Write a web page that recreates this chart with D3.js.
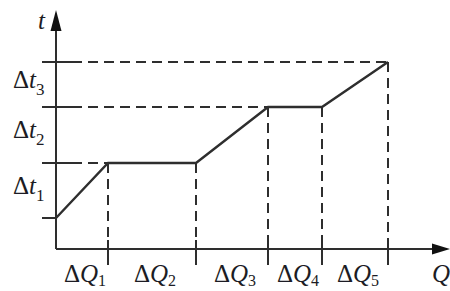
<!DOCTYPE html>
<html lang="en">
<head>
<meta charset="UTF-8">
<title>t vs Q</title>
<style>
  body { margin: 0; background: #fff; }
  .lbl { font-family: "Liberation Serif", "Times New Roman", serif; font-size: 25px; fill: #1c1c24; }
  .it { font-style: italic; }
</style>
</head>
<body>
<svg width="450" height="291"></svg>
<script src="https://cdnjs.cloudflare.com/ajax/libs/d3/7.8.5/d3.min.js"></script>
<script>
// segment widths along Q and rises in t (arbitrary units)
var dQ = [1.04, 1.76, 1.44, 1.08, 1.32];
var dT = [1.1, 0, 1.12, 0, 0.9];
var t0 = 0.62;
var qLabels = ["1", "2", "3", "4", "5"];
var tLabels = ["1", "2", "3"];

var svg = d3.select("svg");
var x = d3.scaleLinear().domain([0, 7.88]).range([56, 450]);
var y = d3.scaleLinear().domain([0, 4.78]).range([249, 10]);

// cumulative points of the curve
var pts = [{q: 0, t: t0}];
dQ.forEach(function(w, i) {
  var p = pts[pts.length - 1];
  pts.push({q: p.q + w, t: p.t + dT[i]});
});
// t levels that get a tick: start + each rise
var levels = [t0];
pts.slice(1).forEach(function(p, i) { if (dT[i] > 0) levels.push(p.t); });
var levelEnds = [0];
pts.slice(1).forEach(function(p, i) { if (dT[i] > 0) levelEnds.push(p.q); });

var ink = "#2e2e2e";
var dash = "10,6";

// dashed horizontals
svg.selectAll(".hd").data(levels.slice(1)).enter().append("line")
  .attr("x1", x(0)).attr("x2", function(d, i) { return x(levelEnds[i + 1]); })
  .attr("y1", function(d) { return y(d); }).attr("y2", function(d) { return y(d); })
  .attr("stroke", ink).attr("stroke-width", 2).attr("stroke-dasharray", dash);

// dashed verticals
svg.selectAll(".vd").data(pts.slice(1)).enter().append("line")
  .attr("x1", function(d) { return x(d.q); }).attr("x2", function(d) { return x(d.q); })
  .attr("y1", function(d) { return y(d.t); }).attr("y2", y(0))
  .attr("stroke", ink).attr("stroke-width", 2).attr("stroke-dasharray", dash);

// y ticks (solid)
svg.selectAll(".yt").data(levels).enter().append("line")
  .attr("x1", x(0) - 14).attr("x2", function(d, i) { return i === 0 ? x(0) : x(0) + 20; })
  .attr("y1", function(d) { return y(d); }).attr("y2", function(d) { return y(d); })
  .attr("stroke", ink).attr("stroke-width", 2);

// x ticks (solid)
svg.selectAll(".xt").data(pts.slice(1)).enter().append("line")
  .attr("x1", function(d) { return x(d.q); }).attr("x2", function(d) { return x(d.q); })
  .attr("y1", y(0) - 9).attr("y2", y(0) + 16)
  .attr("stroke", ink).attr("stroke-width", 2);

// axes
svg.append("line").attr("x1", x(0)).attr("x2", x(0)).attr("y1", y(0)).attr("y2", y(4.4))
  .attr("stroke", ink).attr("stroke-width", 2);
svg.append("line").attr("x1", x(0)).attr("x2", x(7.6)).attr("y1", y(0)).attr("y2", y(0))
  .attr("stroke", ink).attr("stroke-width", 2);
svg.append("path")
  .attr("d", "M" + x(0) + "," + y(4.78) + " l-5.5,21 l11,0 z").attr("fill", "#111");
svg.append("path")
  .attr("d", "M" + x(7.88) + "," + y(0) + " l-18,-5.5 l0,11 z").attr("fill", "#111");

// curve
svg.append("path").datum(pts)
  .attr("d", d3.line().x(function(d) { return x(d.q); }).y(function(d) { return y(d.t); }))
  .attr("fill", "none").attr("stroke", ink).attr("stroke-width", 2.4);

// t labels
var tl = svg.selectAll(".tl").data(tLabels).enter().append("text")
  .attr("class", "lbl")
  .attr("x", 13)
  .attr("y", function(d, i) { return (y(levels[i]) + y(levels[i + 1])) / 2 + 3; });
tl.append("tspan").text("\u0394");
tl.append("tspan").attr("class", "it").text("t");
tl.append("tspan").attr("font-size", 17).attr("dy", 7).text(function(d) { return d; });

// Q labels
var ql = svg.selectAll(".ql").data(qLabels).enter().append("text")
  .attr("class", "lbl")
  .attr("text-anchor", "middle")
  .attr("x", function(d, i) { return (x(pts[i].q) + x(pts[i + 1].q)) / 2 + 3; })
  .attr("y", 282);
ql.append("tspan").text("\u0394");
ql.append("tspan").attr("class", "it").text("Q");
ql.append("tspan").attr("font-size", 16).attr("dy", 4).text(function(d) { return d; });

// axis names
svg.append("text").attr("class", "lbl it").attr("x", 38).attr("y", 29).attr("font-size", 22).text("t");
svg.append("text").attr("class", "lbl it").attr("x", 432).attr("y", 282).text("Q");
</script>
</body>
</html>
